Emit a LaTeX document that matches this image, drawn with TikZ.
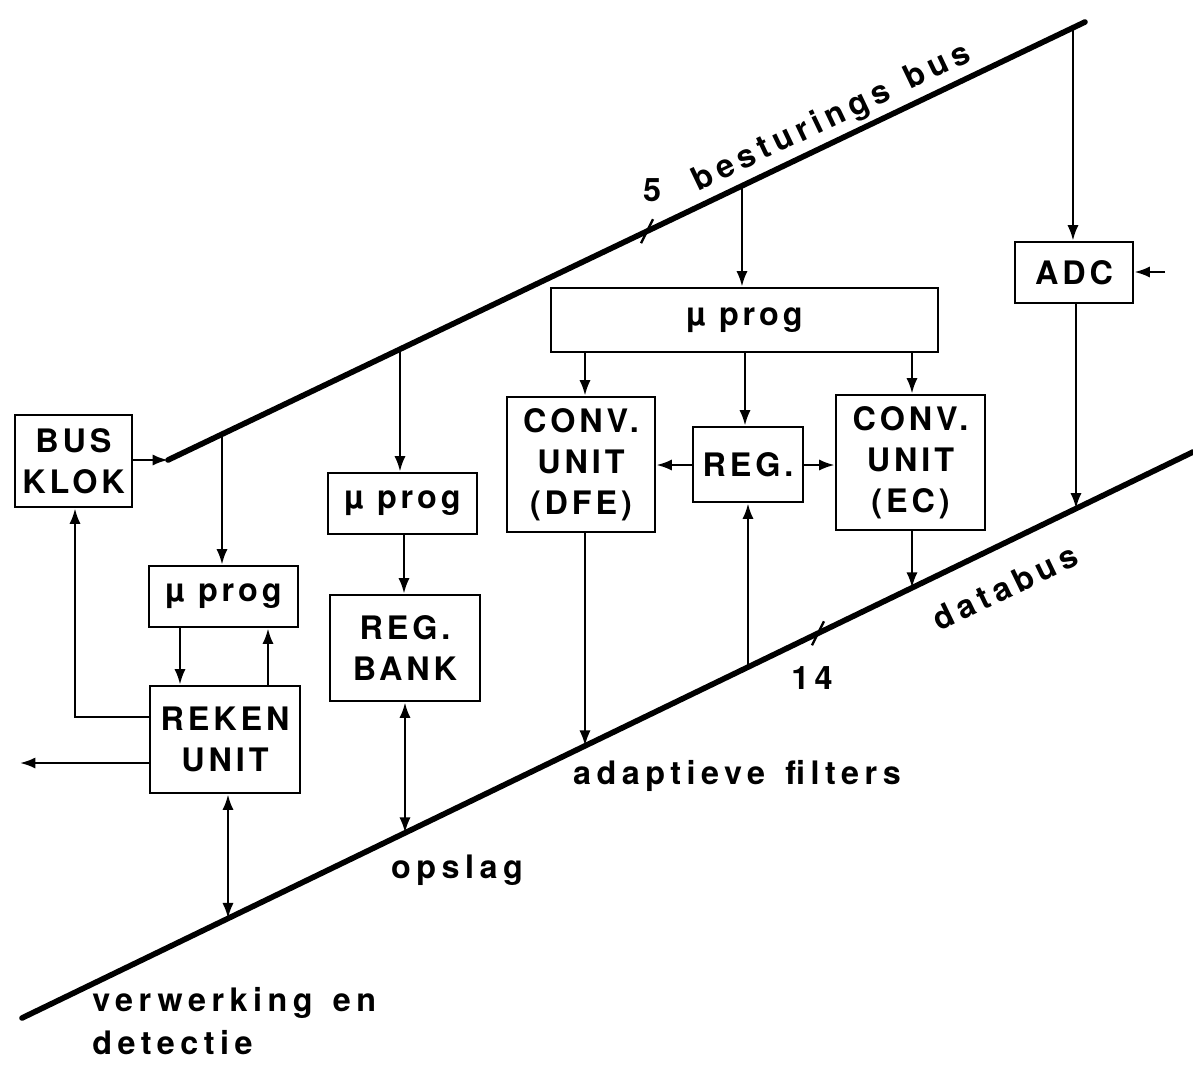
\documentclass[tikz,border=0pt]{standalone}
\usepackage{fontspec}
\setmainfont{TeX Gyre Heros}
\newfontfamily\lbl{TeX Gyre Heros}[LetterSpace=12]
\newfontfamily\lblw{TeX Gyre Heros}[LetterSpace=17,WordSpace=1.4]
\usetikzlibrary{arrows.meta,calc}
\begin{document}
\begin{tikzpicture}[x=0.025cm,y=-0.025cm,
  txt/.style={font=\lbl\bfseries\fontsize{23}{29}\selectfont},
  txtw/.style={font=\lblw\bfseries\fontsize{23}{29}\selectfont},
  bx/.style={draw,line width=2pt,inner sep=0pt,align=center,txt},
  lab/.style={inner sep=0pt,txtw},
  arr/.style={line width=1.7pt,-{Latex[length=11pt,width=8pt]}},
  darr/.style={line width=1.7pt,{Latex[length=11pt,width=8pt]}-{Latex[length=11pt,width=8pt]}},
  ln/.style={line width=1.7pt},
  bus/.style={line width=4pt,line cap=round}]
\useasboundingbox (0,0) rectangle (1193,1068);

% boxes
\node[bx,minimum width=117*0.025cm,minimum height=92*0.025cm] (busklok) at (73.5,461) {BUS\\KLOK};
\node[bx,minimum width=149*0.025cm,minimum height=61*0.025cm] (prog1) at (223.5,596.5) {µ prog};
\node[bx,minimum width=150*0.025cm,minimum height=107*0.025cm] (reken) at (225,739.5) {REKEN\\UNIT};
\node[bx,minimum width=149*0.025cm,minimum height=61*0.025cm] (prog2) at (402.5,503.5) {µ prog};
\node[bx,minimum width=150*0.025cm,minimum height=106*0.025cm] (regbank) at (405,648) {REG.\\BANK};
\node[bx,minimum width=387*0.025cm,minimum height=64*0.025cm] (prog3) at (744.5,320) {µ prog};
\node[bx,minimum width=148*0.025cm,minimum height=135*0.025cm] (dfe) at (581,464.5) {CONV.\\UNIT\\(DFE)};
\node[bx,minimum width=110*0.025cm,minimum height=75*0.025cm] (reg) at (748,464.5) {REG.};
\node[bx,minimum width=149*0.025cm,minimum height=135*0.025cm] (ec) at (910.5,462.5) {CONV.\\UNIT\\(EC)};
\node[bx,minimum width=118*0.025cm,minimum height=61*0.025cm] (adc) at (1074,272.5) {ADC};

% buses
\coordinate (tb0) at (168,460);
\coordinate (tb1) at (1085,22);
\coordinate (bb0) at (22,1018);
\coordinate (bb1) at (1193,452);
\draw[bus] (tb0) -- (tb1);
\draw[bus] (bb0) -- (bb1);

% taps on top bus
\coordinate (ta) at (intersection of tb0--tb1 and 222,0--222,1);
\coordinate (tb) at (intersection of tb0--tb1 and 400,0--400,1);
\coordinate (tc) at (intersection of tb0--tb1 and 742,0--742,1);
\coordinate (td) at (intersection of tb0--tb1 and 1073,0--1073,1);
\coordinate (t5) at (intersection of tb0--tb1 and 647,0--647,1);
% taps on bottom bus
\coordinate (ba) at (intersection of bb0--bb1 and 228,0--228,1);
\coordinate (bbb) at (intersection of bb0--bb1 and 405,0--405,1);
\coordinate (bc) at (intersection of bb0--bb1 and 585,0--585,1);
\coordinate (bd) at (intersection of bb0--bb1 and 748,0--748,1);
\coordinate (be) at (intersection of bb0--bb1 and 912,0--912,1);
\coordinate (bf) at (intersection of bb0--bb1 and 1076,0--1076,1);
\coordinate (b14) at (intersection of bb0--bb1 and 818,0--818,1);

% x helpers
\coordinate (x180) at (180,0);
\coordinate (x268) at (268,0);
\coordinate (x404) at (404,0);
\coordinate (x585) at (585,0);
\coordinate (x745) at (745,0);
\coordinate (x912) at (912,0);
\coordinate (y460) at (0,460);
\coordinate (y465) at (0,465);
\coordinate (y717) at (0,717);
\coordinate (y763) at (0,763);
\coordinate (x75) at (75,0);
\coordinate (out) at (20,763);
\coordinate (adcin) at (1165,272);

% top bus to boxes
\draw[arr] (ta) -- (prog1.north -| ta);
\draw[arr] (tb) -- (prog2.north -| tb);
\draw[arr] (tc) -- (prog3.north -| tc);
\draw[arr] (td) -- (adc.north -| td);

% bus tick marks
\draw[ln] ([shift={(-6,12)}]t5) -- ([shift={(6,-12)}]t5);
\draw[ln] ([shift={(-6,12)}]b14) -- ([shift={(6,-12)}]b14);

% internal connections
\draw[arr] (busklok.east |- y460) -- (tb0);
\draw[arr] (prog1.south -| x180) -- (reken.north -| x180);
\draw[arr] (reken.north -| x268) -- (prog1.south -| x268);
\draw[arr] (reken.west |- y717) -| (busklok.south -| x75);
\draw[arr] (reken.west |- y763) -- (out);
\draw[darr] (reken.south -| ba) -- (ba);
\draw[arr] (prog2.south -| x404) -- (regbank.north -| x404);
\draw[darr] (regbank.south -| bbb) -- (bbb);
\draw[arr] (prog3.south -| x585) -- (dfe.north -| x585);
\draw[arr] (prog3.south -| x745) -- (reg.north -| x745);
\draw[arr] (prog3.south -| x912) -- (ec.north -| x912);
\draw[arr] (reg.west |- y465) -- (dfe.east |- y465);
\draw[arr] (reg.east |- y465) -- (ec.west |- y465);
\draw[arr] (dfe.south -| bc) -- (bc);
\draw[arr] (bd) -- (reg.south -| bd);
\draw[arr] (ec.south -| be) -- (be);
\draw[arr] (adc.south -| bf) -- (bf);
\draw[arr] (adcin) -- (adc.east |- adcin);

% labels
\node[lab] (five) at (652,190) {5};
\node[lab,rotate=25.5] (tbl) at (832,118) {besturings bus};
\node[lab,rotate=25.8] (dbl) at (1005,587) {databus};
\node[lab] (fourteen) at (812,678) {14};
\node[lab] (af) at (737,776) {adaptieve filters};
\node[lab] (op) at (457,870) {opslag};
\node[lab,align=left,anchor=north west,font=\lblw\bfseries\fontsize{23}{31}\selectfont] (vd) at (92,987) {verwerking en\\detectie};
\end{tikzpicture}
\end{document}
